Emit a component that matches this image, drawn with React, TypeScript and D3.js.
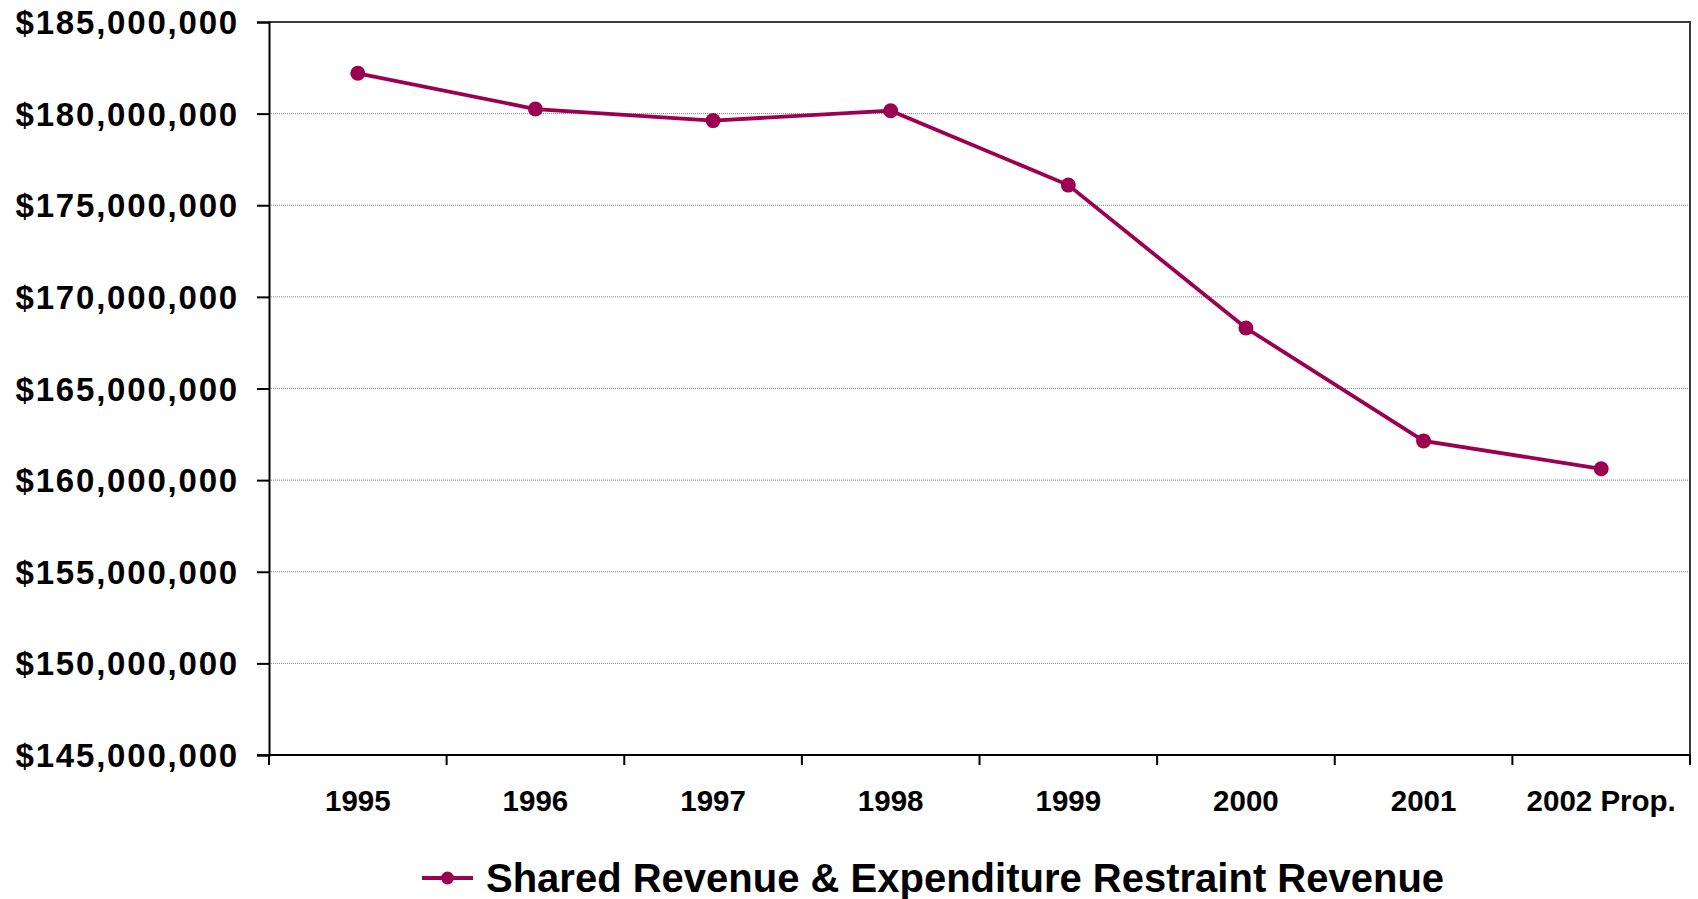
import React, { useEffect, useRef } from "react";
import * as d3 from "d3";

const years = ["1995", "1996", "1997", "1998", "1999", "2000", "2001", "2002 Prop."];
const revenue = [182200000, 180250000, 179620000, 180160000, 176100000, 168300000, 162140000, 160620000];
const yTicks = [145000000, 150000000, 155000000, 160000000, 165000000, 170000000, 175000000, 180000000, 185000000];
const seriesName = "Shared Revenue & Expenditure Restraint Revenue";

const W = 1698;
const H = 899;
const margin = { top: 22, right: 8, bottom: 144, left: 269 };
const lineColor = "#9c0050";
const font = "'Liberation Sans', Arial, sans-serif";

export default function App() {
  const ref = useRef<SVGSVGElement>(null);

  useEffect(() => {
    const svg = d3.select(ref.current);
    svg.selectAll("*").remove();

    const x = d3.scaleBand().domain(years).range([margin.left, W - margin.right]);
    const y = d3.scaleLinear().domain([145000000, 185000000]).range([H - margin.bottom, margin.top]);
    const fmt = (d) => "$" + d3.format(",")(d);

    // gridlines
    svg.append("g")
      .selectAll("line")
      .data(yTicks.slice(1, -1))
      .join("line")
      .attr("x1", margin.left)
      .attr("x2", W - margin.right)
      .attr("y1", d => y(d))
      .attr("y2", d => y(d))
      .attr("stroke", "#808080")
      .attr("stroke-width", 1)
      .attr("stroke-dasharray", "1,1");

    // frame top/right
    svg.append("path")
      .attr("d", `M${margin.left},${y(185000000)}H${W - margin.right}V${y(145000000)}`)
      .attr("fill", "none")
      .attr("stroke", "#3a3a3a")
      .attr("stroke-width", 2);

    // y axis
    const yAxis = svg.append("g")
      .attr("transform", `translate(${margin.left},0)`)
      .call(d3.axisLeft(y).tickValues(yTicks).tickSize(12).tickPadding(18).tickFormat(fmt));
    yAxis.select(".domain").attr("stroke", "#000").attr("stroke-width", 2);
    yAxis.selectAll(".tick line").attr("stroke", "#000").attr("stroke-width", 2);
    yAxis.selectAll(".tick text")
      .attr("fill", "#000")
      .attr("dy", "0.35em")
      .style("font-family", font)
      .style("font-weight", "bold")
      .style("font-size", "33px")
      .style("letter-spacing", "1.8px");

    // x axis, ticks at band edges
    const xAxis = svg.append("g").attr("transform", `translate(0,${H - margin.bottom})`);
    xAxis.append("line")
      .attr("x1", margin.left - 12)
      .attr("x2", W - margin.right)
      .attr("stroke", "#000")
      .attr("stroke-width", 2);
    xAxis.selectAll(".edge")
      .data(years.concat(["end"]))
      .join("line")
      .attr("class", "edge")
      .attr("x1", (d, i) => margin.left + i * x.bandwidth())
      .attr("x2", (d, i) => margin.left + i * x.bandwidth())
      .attr("y1", 0)
      .attr("y2", 10)
      .attr("stroke", "#000")
      .attr("stroke-width", 2);
    xAxis.selectAll(".lbl")
      .data(years)
      .join("text")
      .attr("class", "lbl")
      .attr("x", d => x(d) + x.bandwidth() / 2)
      .attr("y", 56)
      .attr("text-anchor", "middle")
      .style("font-family", font)
      .style("font-weight", "bold")
      .style("font-size", "29.5px")
      .text(d => d);

    // series
    const pts = years.map((d, i) => [x(d) + x.bandwidth() / 2, y(revenue[i])]);
    svg.append("path")
      .attr("d", d3.line()(pts))
      .attr("fill", "none")
      .attr("stroke", lineColor)
      .attr("stroke-width", 3.8);
    svg.append("g")
      .selectAll("circle")
      .data(pts)
      .join("circle")
      .attr("cx", d => d[0])
      .attr("cy", d => d[1])
      .attr("r", 7.5)
      .attr("fill", lineColor);

    // legend
    const leg = svg.append("g").attr("transform", "translate(422,878)");
    leg.append("line").attr("x1", 0).attr("x2", 51).attr("stroke", lineColor).attr("stroke-width", 3.8);
    leg.append("circle").attr("cx", 25.5).attr("r", 6.5).attr("fill", lineColor);
    leg.append("text")
      .attr("x", 64)
      .attr("y", 14)
      .style("font-family", font)
      .style("font-weight", "bold")
      .style("font-size", "40px")
      .text(seriesName);
  }, []);

  return (
    <svg
      ref={ref}
      width={W}
      height={H}
      style={{ position: "absolute", left: 0, top: 0, display: "block", background: "#fff" }}
    />
  );
}
